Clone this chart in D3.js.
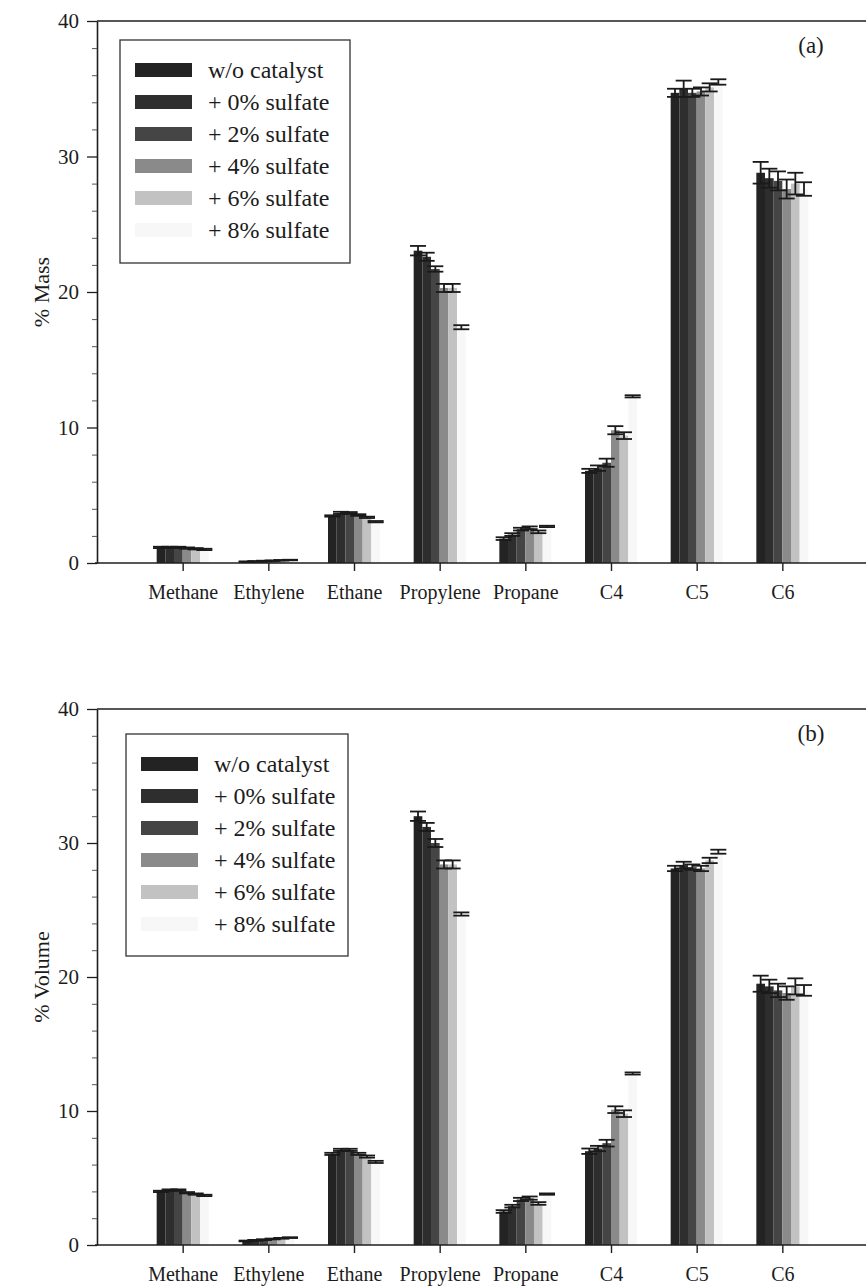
<!DOCTYPE html>
<html>
<head>
<meta charset="utf-8">
<script src="https://cdn.jsdelivr.net/npm/d3@7"></script>
<style>
  body { margin: 0; background: #fff; }
  svg { display: block; }
  text { font-family: "Liberation Serif", "Times New Roman", serif; fill: #1c1c1c; }
</style>
</head>
<body>
<svg id="chart" width="866" height="1288"></svg>
<script>
// Product distribution by carbon number, six catalyst conditions
const categories = ["Methane", "Ethylene", "Ethane", "Propylene", "Propane", "C4", "C5", "C6"];
const seriesLabels = ["w/o catalyst", "+ 0% sulfate", "+ 2% sulfate", "+ 4% sulfate", "+ 6% sulfate", "+ 8% sulfate"];
const seriesColors = ["#232323", "#2e2e2e", "#454545", "#8a8a8a", "#c2c2c2", "#f7f7f7"];
const yTicks = [0, 10, 20, 30, 40];
const yMinorTicks = [2, 4, 6, 8, 12, 14, 16, 18, 22, 24, 26, 28, 32, 34, 36, 38];

// (a) % mass, one row per series, one column per category
const massValues = [
  [1.15, 0.10, 3.47, 23.05, 1.8, 6.8, 34.7, 28.8],
  [1.15, 0.12, 3.70, 22.6, 2.1, 7.0, 35.0, 28.4],
  [1.15, 0.15, 3.70, 21.7, 2.5, 7.4, 34.7, 28.2],
  [1.10, 0.17, 3.54, 20.3, 2.6, 9.8, 34.8, 27.6],
  [1.05, 0.20, 3.37, 20.3, 2.3, 9.4, 35.1, 28.0],
  [1.00, 0.22, 3.05, 17.4, 2.7, 12.3, 35.5, 27.6]
];
const massErrors = [
  [0.05, 0.02, 0.05, 0.35, 0.10, 0.15, 0.30, 0.80],
  [0.05, 0.02, 0.08, 0.30, 0.10, 0.20, 0.60, 0.70],
  [0.05, 0.02, 0.06, 0.20, 0.10, 0.30, 0.30, 0.70],
  [0.05, 0.02, 0.06, 0.30, 0.10, 0.30, 0.30, 0.70],
  [0.05, 0.02, 0.05, 0.30, 0.10, 0.25, 0.30, 0.80],
  [0.05, 0.02, 0.05, 0.15, 0.05, 0.08, 0.20, 0.50]
];

// (b) % volume
const volumeValues = [
  [4.0, 0.30, 6.8, 32.0, 2.5, 7.0, 28.1, 19.5],
  [4.1, 0.35, 7.1, 31.2, 2.9, 7.2, 28.35, 19.3],
  [4.1, 0.40, 7.1, 30.0, 3.4, 7.6, 28.2, 19.0],
  [3.9, 0.45, 6.8, 28.4, 3.5, 10.1, 28.1, 18.8],
  [3.8, 0.50, 6.6, 28.4, 3.1, 9.8, 28.7, 19.3],
  [3.7, 0.55, 6.2, 24.7, 3.8, 12.8, 29.35, 19.0]
];
const volumeErrors = [
  [0.05, 0.03, 0.08, 0.35, 0.10, 0.20, 0.20, 0.60],
  [0.05, 0.03, 0.08, 0.30, 0.10, 0.20, 0.25, 0.50],
  [0.05, 0.03, 0.08, 0.30, 0.12, 0.25, 0.20, 0.50],
  [0.05, 0.03, 0.08, 0.30, 0.12, 0.25, 0.20, 0.50],
  [0.05, 0.03, 0.08, 0.30, 0.10, 0.25, 0.20, 0.60],
  [0.05, 0.03, 0.08, 0.12, 0.05, 0.08, 0.15, 0.40]
];

const svg = d3.select("#chart");
const axisColor = "#1e1e1e";

function drawPanel(cfg) {
  const g = svg.append("g");
  const left = 97, right = 866;

  const x = d3.scalePoint().domain(categories).range([left, 868]).padding(1);
  const xs = d3.scaleBand().domain(seriesLabels).range([-26, 26]).padding(0);
  const y = d3.scaleLinear().domain([0, 40]).range([cfg.zero, cfg.top]);

  // top frame line
  g.append("line")
    .attr("x1", left).attr("x2", right)
    .attr("y1", y(40)).attr("y2", y(40))
    .attr("stroke", axisColor).attr("stroke-width", 1.5);

  // bars
  seriesLabels.forEach((s, si) => {
    g.append("g").selectAll("rect")
      .data(categories.map((c, ci) => ({ c, v: cfg.values[si][ci] })))
      .join("rect")
      .attr("x", d => x(d.c) + xs(s))
      .attr("width", xs.bandwidth())
      .attr("y", d => y(d.v))
      .attr("height", d => y(0) - y(d.v))
      .attr("fill", seriesColors[si]);
  });

  // error bars
  seriesLabels.forEach((s, si) => {
    const eg = g.append("g").attr("stroke", "#1a1a1a").attr("stroke-width", 1.8);
    categories.forEach((c, ci) => {
      const v = cfg.values[si][ci], e = cfg.errors[si][ci];
      const cx = x(c) + xs(s) + xs.bandwidth() / 2;
      eg.append("line").attr("x1", cx).attr("x2", cx).attr("y1", y(v + e)).attr("y2", y(v - e));
      eg.append("line").attr("x1", cx - 8).attr("x2", cx + 8).attr("y1", y(v + e)).attr("y2", y(v + e));
      eg.append("line").attr("x1", cx - 8).attr("x2", cx + 8).attr("y1", y(v - e)).attr("y2", y(v - e));
    });
  });

  // y axis: major ticks with labels, minor ticks without
  const yAxis = g.append("g").attr("transform", `translate(${left},0)`)
    .call(d3.axisLeft(y).tickValues(yTicks).tickSize(10).tickSizeOuter(0).tickPadding(8).tickFormat(d3.format("d")));
  yAxis.select(".domain").attr("stroke", axisColor).attr("stroke-width", 1.6);
  yAxis.selectAll(".tick line").attr("stroke", axisColor).attr("stroke-width", 1.3);
  yAxis.selectAll(".tick text").attr("font-size", 21).attr("font-family", "Liberation Serif").attr("fill", "#1c1c1c");

  const yMinor = g.append("g").attr("transform", `translate(${left},0)`)
    .call(d3.axisLeft(y).tickValues(yMinorTicks).tickSize(5).tickFormat(""));
  yMinor.select(".domain").remove();
  yMinor.selectAll(".tick line").attr("stroke", "#555").attr("stroke-width", 1);

  // x axis
  const xAxis = g.append("g").attr("transform", `translate(0,${y(0)})`)
    .call(d3.axisBottom(x).tickSize(8).tickSizeOuter(0).tickPadding(14));
  xAxis.select(".domain").attr("stroke", axisColor).attr("stroke-width", 1.6).attr("d", `M${left - 2},0H${right}`);
  xAxis.selectAll(".tick line").attr("stroke", axisColor).attr("stroke-width", 1.4);
  xAxis.selectAll(".tick text").attr("font-size", 20).attr("font-family", "Liberation Serif").attr("fill", "#1c1c1c");

  // y-axis title
  g.append("text")
    .attr("transform", `translate(49,${(cfg.top + cfg.zero) / 2}) rotate(-90)`)
    .attr("text-anchor", "middle")
    .attr("font-size", 22)
    .text(cfg.title);

  // panel tag
  g.append("text")
    .attr("x", 811).attr("y", cfg.top + 32)
    .attr("text-anchor", "middle")
    .attr("font-size", 23)
    .text(cfg.tag);

  // legend
  const L = cfg.legend;
  g.append("rect")
    .attr("x", L.x).attr("y", L.y).attr("width", L.w).attr("height", L.h)
    .attr("fill", "#fff").attr("stroke", "#333").attr("stroke-width", 1.3);
  seriesLabels.forEach((s, si) => {
    const ry = L.y + 30 + si * L.step;
    g.append("rect")
      .attr("x", L.x + 15).attr("y", ry - 7).attr("width", 57).attr("height", 14)
      .attr("fill", seriesColors[si]);
    g.append("text")
      .attr("x", L.x + 88).attr("y", ry + 8)
      .attr("font-size", 24)
      .text(s);
  });
}

drawPanel({
  top: 21, zero: 563, title: "% Mass", tag: "(a)",
  values: massValues, errors: massErrors,
  legend: { x: 120, y: 40, w: 230, h: 223, step: 32 }
});

drawPanel({
  top: 709, zero: 1245, title: "% Volume", tag: "(b)",
  values: volumeValues, errors: volumeErrors,
  legend: { x: 126, y: 734, w: 222, h: 222, step: 32 }
});
</script>
</body>
</html>
